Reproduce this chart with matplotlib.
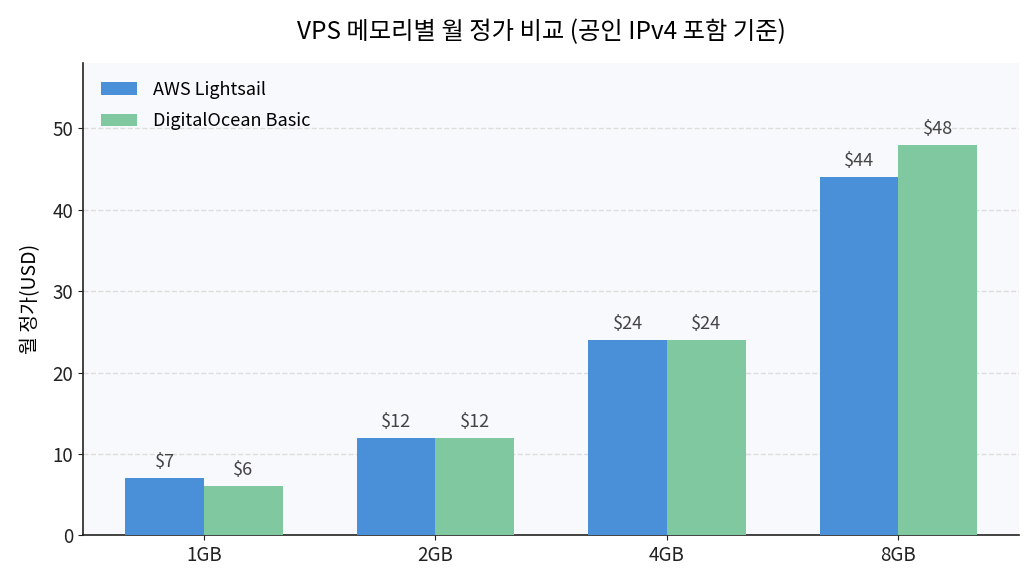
import numpy as np
from matplotlib import pyplot as plt

plt.rcParams['font.family'] = ['Noto Sans CJK KR', 'DejaVu Sans']

categories = ['1GB', '2GB', '4GB', '8GB']
aws_prices = [7, 12, 24, 44]
do_prices = [6, 12, 24, 48]
series_names = ['AWS Lightsail', 'DigitalOcean Basic']

fig, ax = plt.subplots(figsize=(10.35, 5.85), dpi=100)
fig.subplots_adjust(left=0.08, right=0.985, bottom=0.085, top=0.893)
ax.set_facecolor('#F8F9FC')

x = np.arange(len(categories))
width = 0.34
b1 = ax.bar(x - width / 2, aws_prices, width, color='#4A90D9', label=series_names[0], zorder=3)
b2 = ax.bar(x + width / 2, do_prices, width, color='#7FC8A0', label=series_names[1], zorder=3)

for bars in (b1, b2):
    for rect in bars:
        h = rect.get_height()
        ax.annotate(f'${h:g}', (rect.get_x() + rect.get_width() / 2, h),
                    xytext=(0, 5), textcoords='offset points',
                    ha='center', va='bottom', fontsize=13, color='#444444')

ax.set_xticks(x)
ax.set_xticklabels(categories)
ax.set_ylim(0, max(do_prices) * 1.21)
ax.set_ylabel('월 정가(USD)', fontsize=14, labelpad=8)
ax.set_title('VPS 메모리별 월 정가 비교 (공인 IPv4 포함 기준)', fontsize=17.5, pad=17, x=0.49)
ax.tick_params(labelsize=13.5, colors='#222222')
ax.yaxis.grid(True, linestyle='--', color='#DDDDDD', linewidth=1, zorder=0)
ax.set_axisbelow(True)
for side in ('top', 'right'):
    ax.spines[side].set_visible(False)
for side in ('left', 'bottom'):
    ax.spines[side].set_color('#222222')
    ax.spines[side].set_linewidth(1.2)

ax.legend(loc='upper left', frameon=False, fontsize=13, borderaxespad=0.6,
          labelspacing=0.75, handletextpad=0.9)

fig.savefig('out.png')
